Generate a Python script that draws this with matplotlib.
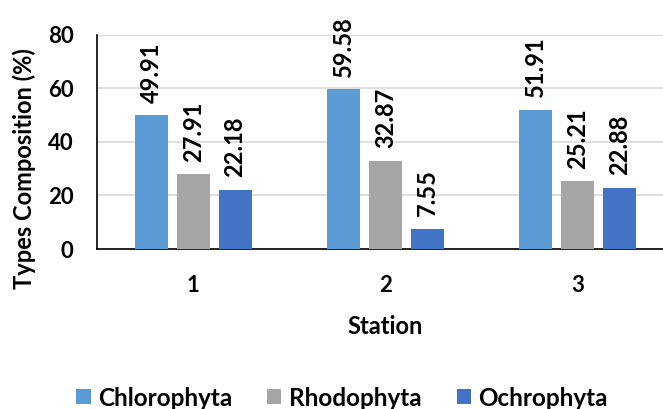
import matplotlib
matplotlib.use('Agg')
import matplotlib.pyplot as plt
import numpy as np

plt.rcParams['font.family'] = ['Lato', 'DejaVu Sans']
plt.rcParams['font.weight'] = 'bold'

stations = ['1', '2', '3']
groups = ['Chlorophyta', 'Rhodophyta', 'Ochrophyta']
chlorophyta = [49.91, 59.58, 51.91]
rhodophyta = [27.91, 32.87, 25.21]
ochrophyta = [22.18, 7.55, 22.88]
colors = ['#5B9BD5', '#A5A5A5', '#4472C4']

fig = plt.figure(figsize=(6.63, 4.09), dpi=100)
ax = fig.add_axes([0.1463, 0.391, 0.870, 0.5245])

x = np.arange(1, len(stations) + 1)
width = 0.172
step = 0.218
series = [chlorophyta, rhodophyta, ochrophyta]
for i, (vals, name, c) in enumerate(zip(series, groups, colors)):
    pos = x + (i - 1) * step
    bars = ax.bar(pos, vals, width, color=c, label=name, zorder=3)
    for b, v in zip(bars, vals):
        ax.annotate('%.2f' % v, (b.get_x() + b.get_width() / 2, v),
                    xytext=(0, 9), textcoords='offset points',
                    rotation=90, ha='center', va='bottom',
                    fontsize=17, fontweight='bold')

ax.set_xlim(0.5, 3.5)
ax.set_ylim(0, 80)
ax.set_yticks([0, 20, 40, 60, 80])
ax.set_xticks(x)
ax.set_xticklabels(stations)
ax.yaxis.grid(True, color='#D9D9D9', linewidth=1.2, zorder=0)
ax.set_axisbelow(True)
for s in ['top', 'right']:
    ax.spines[s].set_visible(False)
for s in ['left', 'bottom']:
    ax.spines[s].set_color('black')
    ax.spines[s].set_linewidth(1.2)
ax.tick_params(axis='y', length=0, pad=17, labelsize=16)
ax.tick_params(axis='x', length=0, pad=19, labelsize=16)

# axis titles placed in figure pixels
fig.text(24 / 663, 1 - 169 / 409, 'Types Composition (%)', rotation=90,
         ha='center', va='center', fontsize=17, fontweight='bold')
fig.text(385 / 663, 1 - 326 / 409, 'Station', ha='center', va='center',
         fontsize=17, fontweight='bold')

fig.legend(loc='center', bbox_to_anchor=(342 / 663, 11 / 409), ncol=3,
           frameon=False, fontsize=17.5, handlelength=0.58, handleheight=0.58,
           handletextpad=0.3, columnspacing=1.45, borderpad=0)

fig.savefig('out.png', dpi=100)
